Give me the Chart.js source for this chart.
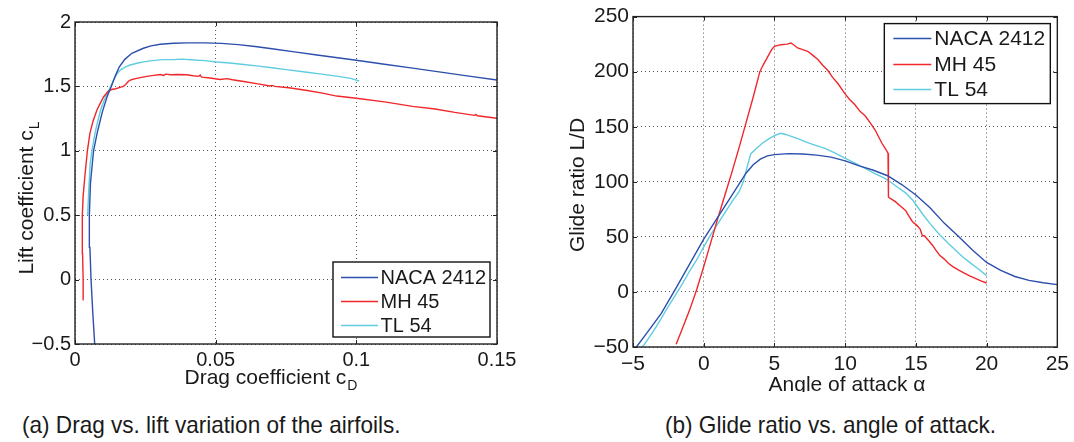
<!DOCTYPE html>
<html>
<head>
<meta charset="utf-8">
<script src="https://cdn.jsdelivr.net/npm/chart.js@4"></script>
<style>
  html, body { margin: 0; padding: 0; background: #fff; }
  #page { position: relative; width: 1074px; height: 442px; overflow: hidden; }
  .panel { position: absolute; top: 0; }
  .caption {
    position: absolute; top: 412px; height: 26px; line-height: 26px;
    font-family: "Liberation Sans", Arial, sans-serif; font-size: 24px; color: #1a1a1a;
    white-space: nowrap; transform-origin: 0 50%; transform: scaleX(0.94);
  }
</style>
</head>
<body>
<div id="page">
  <div class="panel" style="left:0"><canvas id="polarChart" width="540" height="392"></canvas></div>
  <div class="panel" style="left:540px"><canvas id="glideChart" width="534" height="392"></canvas></div>
  <div class="caption" style="left:22px">(a) Drag vs. lift variation of the airfoils.</div>
  <div class="caption" style="left:665px">(b) Glide ratio vs. angle of attack.</div>
</div>
<script>
// series names and colours
const airfoils = ["NACA 2412", "MH 45", "TL 54"];
const colors = ["#2d4fad", "#f0272b", "#5fcde0"];

// (a) drag polar: drag coefficient cD vs lift coefficient cL
const cdNaca = [0.0070, 0.0063, 0.0057, 0.0053, 0.0051, 0.0055, 0.0066, 0.0080, 0.0097, 0.0114, 0.0129, 0.0143, 0.0157, 0.0177, 0.0202, 0.0243, 0.0270, 0.0303, 0.0350, 0.0400, 0.0460, 0.0520, 0.0580, 0.0640, 0.0700, 0.0780, 0.0860, 0.0940, 0.1000, 0.1100, 0.1200, 0.1300, 0.1400, 0.1500];
const clNaca = [-0.50, -0.25, 0.00, 0.25, 0.50, 0.75, 1.00, 1.15, 1.30, 1.42, 1.50, 1.58, 1.65, 1.71, 1.757, 1.796, 1.815, 1.827, 1.835, 1.838, 1.838, 1.834, 1.824, 1.810, 1.792, 1.768, 1.744, 1.720, 1.703, 1.672, 1.642, 1.611, 1.580, 1.550];

const cdMh = [0.0031, 0.0029, 0.0027, 0.0026, 0.0026, 0.0029, 0.0035, 0.0044, 0.0053, 0.0064, 0.0078, 0.0090, 0.0102, 0.0119, 0.0130, 0.0145, 0.0160, 0.0172, 0.0180, 0.0190, 0.0200, 0.0215, 0.0232, 0.0255, 0.0280, 0.0303, 0.0315, 0.0322, 0.0340, 0.0365, 0.0397, 0.0420, 0.0440, 0.0445, 0.0450, 0.0480, 0.0516, 0.0540, 0.0560, 0.0600, 0.0650, 0.0693, 0.0700, 0.0710, 0.0760, 0.0820, 0.0880, 0.0930, 0.1000, 0.1100, 0.1200, 0.1280, 0.1350, 0.1420, 0.1425, 0.1430, 0.1500];
const clMh = [-0.157, 0.00, 0.20, 0.40, 0.50, 0.65, 0.80, 1.00, 1.136, 1.23, 1.317, 1.37, 1.42, 1.465, 1.476, 1.482, 1.492, 1.500, 1.515, 1.540, 1.552, 1.560, 1.568, 1.578, 1.586, 1.592, 1.585, 1.595, 1.590, 1.592, 1.590, 1.583, 1.578, 1.588, 1.572, 1.565, 1.554, 1.560, 1.552, 1.538, 1.520, 1.503, 1.508, 1.500, 1.490, 1.470, 1.448, 1.425, 1.408, 1.380, 1.345, 1.325, 1.298, 1.275, 1.282, 1.272, 1.253];

const cdTl = [0.0045, 0.0049, 0.0054, 0.0060, 0.0071, 0.0081, 0.0091, 0.0105, 0.0121, 0.0137, 0.0150, 0.0161, 0.0178, 0.0196, 0.0220, 0.0243, 0.0275, 0.0310, 0.0350, 0.0380, 0.0410, 0.0460, 0.0504, 0.0550, 0.0600, 0.0646, 0.0700, 0.0750, 0.0811, 0.0870, 0.0930, 0.0980, 0.1010];
const clTl = [0.50, 0.70, 0.90, 1.00, 1.136, 1.23, 1.317, 1.40, 1.472, 1.550, 1.600, 1.627, 1.650, 1.666, 1.680, 1.690, 1.700, 1.708, 1.708, 1.712, 1.707, 1.700, 1.690, 1.682, 1.670, 1.659, 1.645, 1.630, 1.614, 1.597, 1.580, 1.562, 1.542];

// (b) glide ratio L/D vs angle of attack
const aoaNaca = [-4.76, -4, -3, -2, -1, 0, 1, 2, 3, 3.5, 4, 4.5, 5, 6, 7, 8, 9, 10, 11, 12, 13, 14, 15, 16, 17, 18, 19, 20, 21, 22, 23, 24, 25];
const ldNaca = [-50, -37, -19.5, 2.5, 25.3, 48, 68, 88, 108, 115.5, 120.5, 123.5, 124.7, 125.6, 125.3, 124.2, 122.4, 119, 114.5, 110.5, 105.5, 97.5, 88, 76.5, 62.5, 50.5, 38, 26.8, 19.5, 14, 10.5, 8.3, 6.6];

const aoaMh = [-1.95, -1.5, -1.0, -0.5, 0, 0.5, 1.0, 1.5, 2.0, 2.5, 3.0, 3.5, 3.97, 4.2, 4.5, 4.8, 5.0, 5.45, 5.9, 6.16, 6.4, 6.64, 7.0, 7.35, 7.7, 8.07, 8.4, 8.78, 9.1, 9.5, 9.98, 10.3, 10.69, 11.05, 11.41, 11.8, 12.12, 12.4, 12.6, 12.85, 13.03, 13.06, 13.3, 13.55, 13.9, 14.27, 14.5, 14.75, 15.1, 15.3, 15.46, 15.6, 15.94, 16.2, 16.41, 16.7, 17.01, 17.3, 17.61, 18.0, 18.32, 18.8, 19.28, 19.6, 20.0];
const ldMh = [-47.6, -33, -16.5, 2, 23, 45, 67, 88, 109, 131, 154, 177, 200, 206, 213, 220, 223, 224.5, 225, 226, 224, 221.5, 220, 218.5, 215, 211, 206, 201, 195, 189, 180, 175, 170, 164, 160, 153, 147, 140, 135, 130, 126, 86, 84, 82, 78, 74, 69, 64, 60, 57, 51, 51, 46, 42, 38, 33, 29.8, 26, 23, 20, 17.8, 14.5, 11.8, 10, 8.1];

const aoaTl = [-4.33, -4, -3.5, -3, -2.5, -2, -1.5, -1, -0.5, 0, 0.5, 1, 1.5, 2, 2.5, 2.8, 3.0, 3.32, 3.7, 4.14, 4.6, 5.0, 5.42, 5.8, 6.24, 6.7, 7.17, 7.7, 8.57, 9.3, 9.98, 10.7, 11.38, 12.1, 12.78, 13.4, 13.71, 14.27, 14.8, 15.46, 16, 16.65, 17.3, 17.85, 18.3, 18.8, 19.4, 20.0];
const ldTl = [-50, -44, -34.5, -24, -13, -3, 7.5, 19, 29, 41, 52, 62, 72, 82, 91, 100, 110, 125.3, 130, 135, 139, 142, 144, 143, 141, 139, 136.4, 134, 130.4, 126, 121.4, 117, 112.3, 107.5, 103.3, 98, 95, 90, 83, 71, 62, 52.4, 44, 37.4, 32, 26.8, 21, 14.8];

const FONT = "Liberation Sans, Arial, sans-serif";
const INK = "#1a1a1a";

function toPoints(xs, ys) {
    return xs.map((x, i) => ({x, y: ys[i]}));
}

function lineSet(label, color, xs, ys) {
    return {
        label,
        data: toPoints(xs, ys),
        showLine: true,
        borderColor: color,
        backgroundColor: color,
        borderWidth: 1.4,
        pointRadius: 0,
        tension: 0
    };
}

// minus signs drawn as a real minus
const tickLabel = v => String(+(+v).toFixed(3)).replace("-", "\u2212");

// draws "main" followed by a lowered subscript, centred on 0
function textWithSub(ctx, main, sub, size) {
    ctx.font = `${size}px ${FONT}`;
    const w1 = ctx.measureText(main).width;
    const subSize = Math.round(size * 0.68);
    ctx.font = `${subSize}px ${FONT}`;
    const w2 = sub ? ctx.measureText(sub).width + 1 : 0;
    const x0 = -(w1 + w2) / 2;
    ctx.textAlign = "left";
    ctx.textBaseline = "alphabetic";
    ctx.font = `${size}px ${FONT}`;
    ctx.fillText(main, x0, 0);
    if (sub) {
        ctx.font = `${subSize}px ${FONT}`;
        ctx.fillText(sub, x0 + w1 + 1, size * 0.3);
    }
}

// MATLAB-like box, inward ticks, axis titles and boxed legend
const axesBox = {
    id: "axesBox",
    afterDraw(chart, args, opts) {
        const {ctx, chartArea: a, scales: {x, y}} = chart;
        ctx.save();
        ctx.strokeStyle = "#222";
        ctx.lineWidth = 1;
        ctx.beginPath();
        x.ticks.forEach(t => {
            const px = Math.round(x.getPixelForValue(t.value)) + 0.5;
            ctx.moveTo(px, a.bottom); ctx.lineTo(px, a.bottom - 4);
            ctx.moveTo(px, a.top); ctx.lineTo(px, a.top + 4);
        });
        y.ticks.forEach(t => {
            const py = Math.round(y.getPixelForValue(t.value)) + 0.5;
            ctx.moveTo(a.left, py); ctx.lineTo(a.left + 4, py);
            ctx.moveTo(a.right, py); ctx.lineTo(a.right - 4, py);
        });
        ctx.stroke();
        ctx.lineWidth = 1.4;
        ctx.strokeRect(a.left, a.top, a.right - a.left, a.bottom - a.top);

        // axis titles
        ctx.fillStyle = INK;
        const xt = opts.xTitle, yt = opts.yTitle;
        ctx.save();
        ctx.translate(xt.cx, xt.baseline);
        textWithSub(ctx, xt.text, xt.sub, opts.titleSize);
        ctx.restore();
        ctx.save();
        ctx.translate(yt.baseline, yt.cy);
        ctx.rotate(-Math.PI / 2);
        textWithSub(ctx, yt.text, yt.sub, opts.titleSize);
        ctx.restore();

        // legend
        const lg = opts.legend;
        const bx = a.right - lg.inset - lg.w;
        const by = lg.corner === "top" ? a.top + lg.inset : a.bottom - lg.inset - lg.h;
        ctx.fillStyle = "#fff";
        ctx.fillRect(bx, by, lg.w, lg.h);
        ctx.lineWidth = 1.4;
        ctx.strokeStyle = "#111";
        ctx.strokeRect(bx, by, lg.w, lg.h);
        ctx.font = `${lg.size}px ${FONT}`;
        ctx.textAlign = "left";
        ctx.textBaseline = "middle";
        chart.data.datasets.forEach((ds, i) => {
            const ry = Math.round(by + lg.first + i * lg.step) + 0.5;
            ctx.strokeStyle = ds.borderColor;
            ctx.lineWidth = 1.4;
            ctx.beginPath();
            ctx.moveTo(bx + lg.line0, ry);
            ctx.lineTo(bx + lg.line1, ry);
            ctx.stroke();
            ctx.fillStyle = INK;
            ctx.fillText(ds.label, bx + lg.text, ry + 1);
        });
        ctx.restore();
    }
};

function axis(min, max, step, pad, fixSize, isX, fontSize) {
    return {
        type: "linear",
        min, max,
        ticks: {
            stepSize: step,
            padding: pad,
            color: INK,
            font: {family: FONT, size: fontSize},
            maxRotation: 0,
            autoSkip: false,
            callback: tickLabel
        },
        grid: {color: "#555", lineWidth: 1, drawTicks: false},
        border: {display: false, dash: [1, 3]},
        afterFit(scale) {
            if (isX) scale.height = fixSize; else scale.width = fixSize;
        }
    };
}

function makeChart(id, datasets, cfg) {
    return new Chart(document.getElementById(id).getContext("2d"), {
        type: "scatter",
        data: {datasets},
        options: {
            responsive: false,
            animation: false,
            devicePixelRatio: 1,
            layout: {padding: cfg.padding},
            scales: {x: cfg.x, y: cfg.y},
            plugins: {
                legend: {display: false},
                tooltip: {enabled: false},
                axesBox: cfg.box
            }
        },
        plugins: [axesBox]
    });
}

makeChart("polarChart", [
    lineSet(airfoils[0], colors[0], cdNaca, clNaca),
    lineSet(airfoils[1], colors[1], cdMh, clMh),
    lineSet(airfoils[2], colors[2], cdTl, clTl)
], {
    padding: {left: 0, right: 43, top: 22, bottom: 0},
    x: axis(0, 0.15, 0.05, 4, 48, true, 20),
    y: axis(-0.5, 2, 0.5, 4, 75, false, 20),
    box: {
        titleSize: 21,
        xTitle: {text: "Drag coefficient c", sub: "D", cx: 271, baseline: 384},
        yTitle: {text: "Lift coefficient c", sub: "L", cy: 198, baseline: 33},
        legend: {corner: "bottom", inset: 7, w: 157, h: 75, first: 14.5, step: 24.2, line0: 8, line1: 45, text: 47.5, size: 20}
    }
});

makeChart("glideChart", [
    lineSet(airfoils[0], colors[0], aoaNaca, ldNaca),
    lineSet(airfoils[1], colors[1], aoaMh, ldMh),
    lineSet(airfoils[2], colors[2], aoaTl, ldTl)
], {
    padding: {left: 0, right: 13, top: 15, bottom: 0},
    x: axis(-5, 25, 5, 5, 45, true, 21),
    y: axis(-50, 250, 50, 4, 93, false, 21),
    box: {
        titleSize: 21,
        xTitle: {text: "Angle of attack \u03b1", sub: "", cx: 307, baseline: 391},
        yTitle: {text: "Glide ratio L/D", sub: "", cy: 185, baseline: 44},
        legend: {corner: "top", inset: 7, w: 166, h: 80, first: 14.5, step: 25.5, line0: 9, line1: 47, text: 50, size: 21}
    }
});
</script>
</body>
</html>
